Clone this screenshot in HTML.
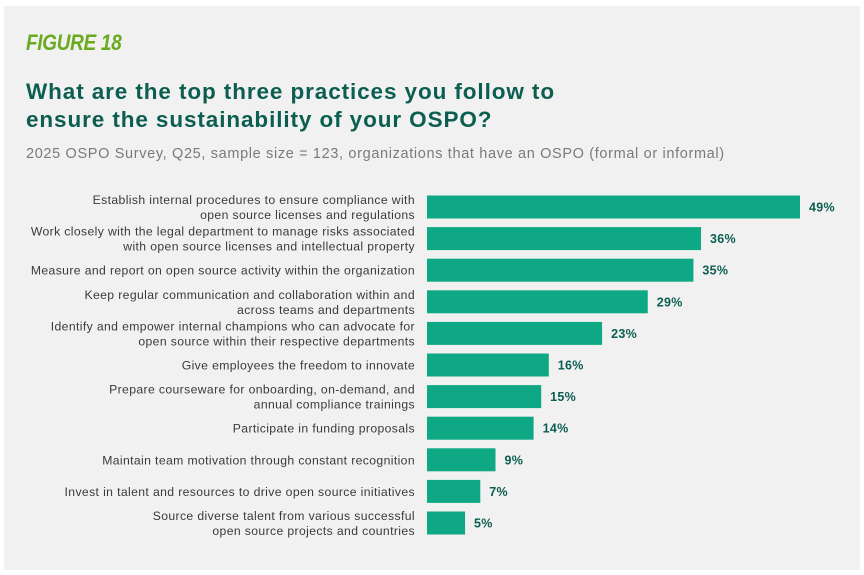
<!DOCTYPE html>
<html><head><meta charset="utf-8"><style>
body{margin:0;width:864px;height:575px;background:#fff;overflow:hidden;font-family:"Liberation Sans",sans-serif}
#panel{position:absolute;left:4px;top:6px;width:856px;height:564px;background:#f1f1f1}
.fig{position:absolute;left:26px;top:30px;font-size:22px;font-weight:bold;font-style:italic;color:#6aaa1e;letter-spacing:-0.3px;transform:scaleX(0.86);transform-origin:left}
.title{position:absolute;left:26px;top:78px;font-size:22.5px;font-weight:bold;color:#0c5e50;line-height:28px;letter-spacing:0.9px}
.sub{position:absolute;left:26px;top:146px;font-size:14.5px;color:#7a7a7a;letter-spacing:0.65px}
svg{position:absolute;left:0;top:0}
</style></head><body>
<div id="panel"></div>
<div class="fig">FIGURE 18</div>
<div class="title">What are the top three practices you follow to<br>ensure the sustainability of your OSPO?</div>
<div class="sub">2025 OSPO Survey, Q25, sample size = 123, organizations that have an OSPO (formal or informal)</div>
<svg id="chart" width="864" height="575"></svg>
<script>
const categories=[
["Establish internal procedures to ensure compliance with","open source licenses and regulations"],
["Work closely with the legal department to manage risks associated","with open source licenses and intellectual property"],
["Measure and report on open source activity within the organization"],
["Keep regular communication and collaboration within and","across teams and departments"],
["Identify and empower internal champions who can advocate for","open source within their respective departments"],
["Give employees the freedom to innovate"],
["Prepare courseware for onboarding, on-demand, and","annual compliance trainings"],
["Participate in funding proposals"],
["Maintain team motivation through constant recognition"],
["Invest in talent and resources to drive open source initiatives"],
["Source diverse talent from various successful","open source projects and countries"]];
const values=[49,36,35,29,23,16,15,14,9,7,5];
const valueLabels=values.map(v=>v+"%");
const svg=document.getElementById('chart');const NS="http://www.w3.org/2000/svg";
const x0=427,pxPer=373/49;
const xs=v=>x0+v*pxPer;
const ys=i=>207+i*31.6;
function mk(t,a){const e=document.createElementNS(NS,t);for(const k in a)e.setAttribute(k,a[k]);svg.appendChild(e);return e;}
values.forEach((v,i)=>{
 const cy=ys(i);
 const r=mk('rect',{x:x0,y:cy-11.5,width:xs(v)-x0,height:23,fill:'#0fa884'});
 
 
 const t=mk('text',{x:xs(v)+9,y:cy+4.5,'font-size':12.5,'font-weight':'bold',fill:'#0c5e50','letter-spacing':0.3});
 t.textContent=valueLabels[i];
 
 
 const lines=categories[i];
 lines.forEach((ln,j)=>{
  const off=lines.length===1?4.5:(j===0?-3:12);
  const c=mk('text',{x:415,y:cy+off,'text-anchor':'end','font-size':12.2,fill:'#3a3a3a','letter-spacing':0.38});
  c.textContent=ln;
  
  
 });
});
</script>
</body></html>
